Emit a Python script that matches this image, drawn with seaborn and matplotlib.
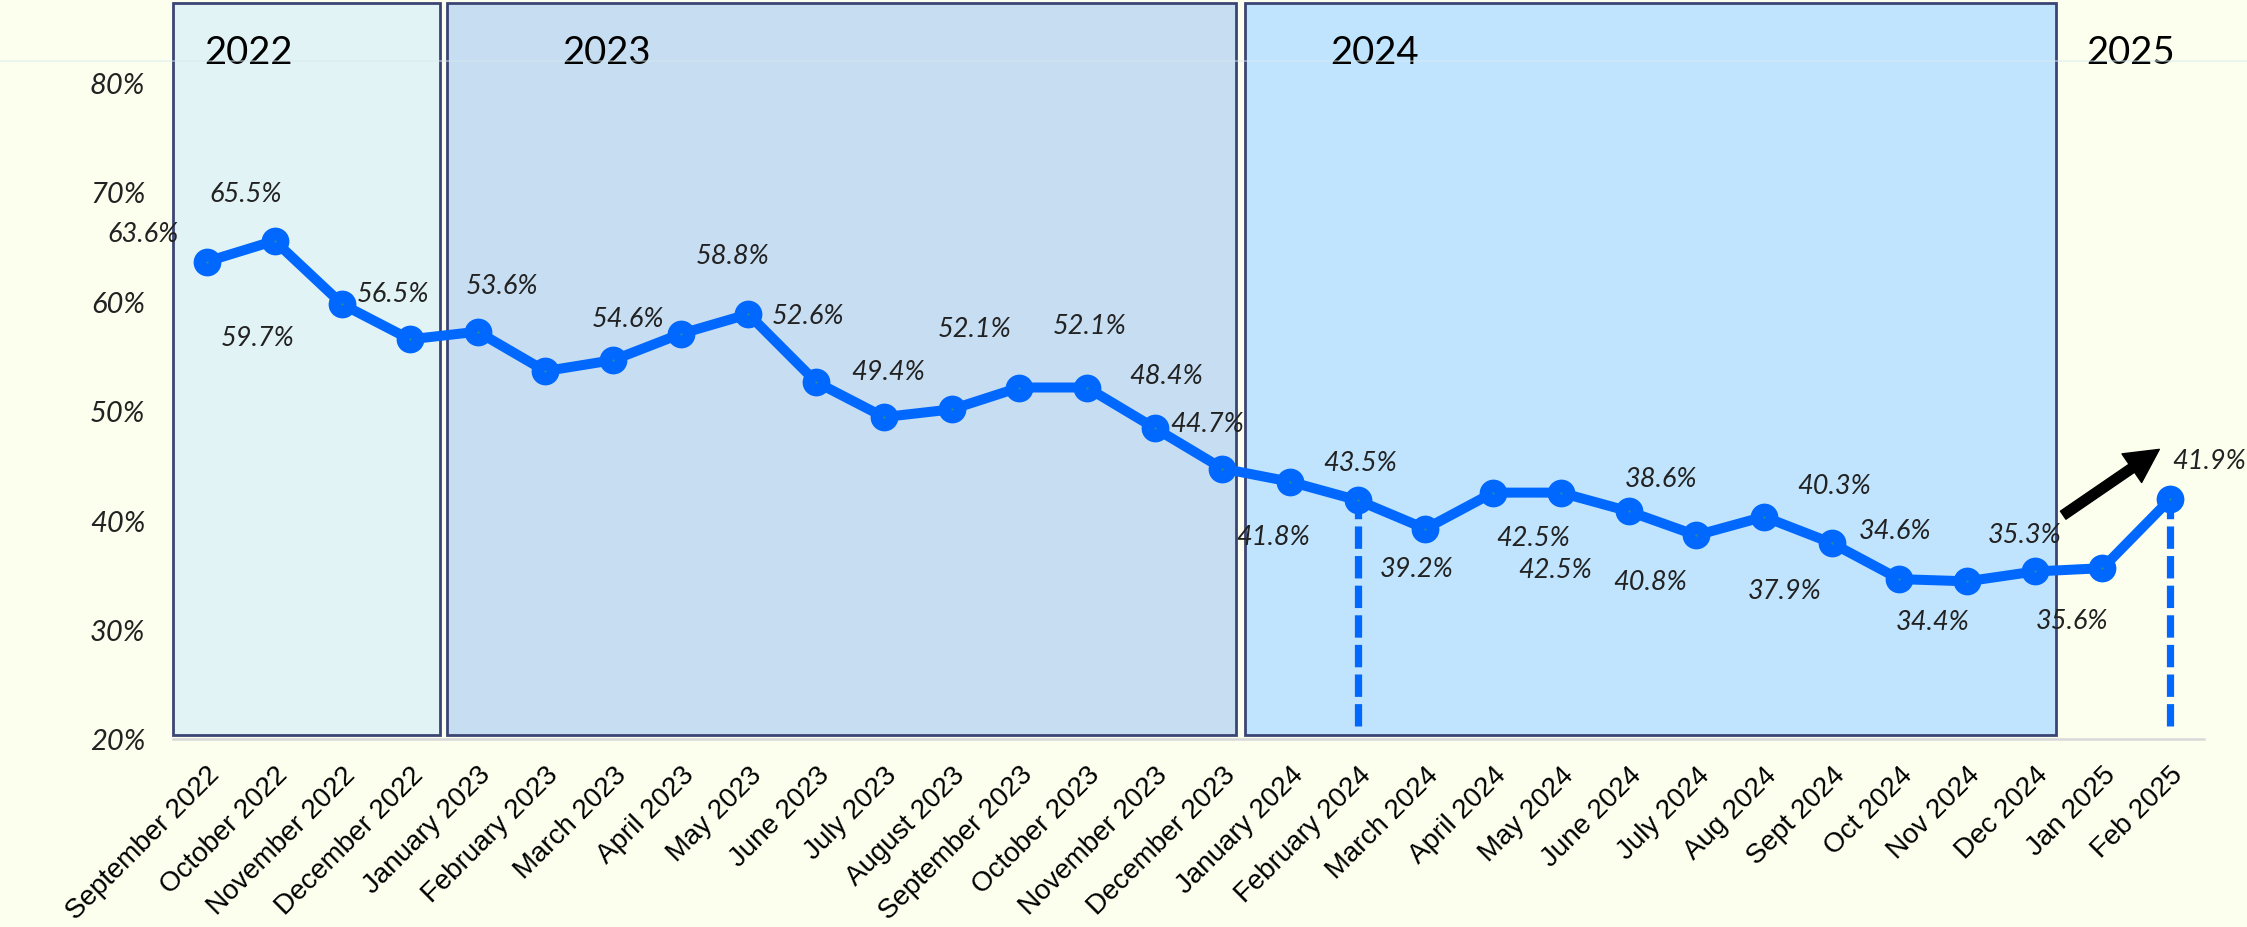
import numpy as np
import pandas as pd
import matplotlib
matplotlib.use("Agg")
import matplotlib.pyplot as plt
from matplotlib.patches import Rectangle
from matplotlib.lines import Line2D
import seaborn as sns

# ---- data -------------------------------------------------------------
months = ["September 2022", "October 2022", "November 2022", "December 2022",
          "January 2023", "February 2023", "March 2023", "April 2023", "May 2023",
          "June 2023", "July 2023", "August 2023", "September 2023", "October 2023",
          "November 2023", "December 2023", "January 2024", "February 2024",
          "March 2024", "April 2024", "May 2024", "June 2024", "July 2024",
          "Aug 2024", "Sept 2024", "Oct 2024", "Nov 2024", "Dec 2024",
          "Jan 2025", "Feb 2025"]
rates = [63.6, 65.5, 59.7, 56.5, 57.2, 53.6, 54.6, 57.0, 58.8, 52.6, 49.4, 50.1,
         52.1, 52.1, 48.4, 44.7, 43.5, 41.8, 39.2, 42.5, 42.5, 40.8, 38.6, 40.3,
         37.9, 34.6, 34.4, 35.3, 35.6, 41.9]
unlabelled_months = ["January 2023", "April 2023", "August 2023"]
highlight_months = ["February 2024", "Feb 2025"]
years = ["2022", "2023", "2024", "2025"]
y_ticks = [20, 30, 40, 50, 60, 70, 80]

# ---- styling ----------------------------------------------------------
BG = "#fdffee"
BLUE = "#0068ff"
NAVY = "#3b4575"
GREY_AXIS = "#d9d9d9"
TEXT = "#222222"
year_fill = ["#e2f3f5", "#c7ddf2", "#c0e4fd"]
# year panels, in category units (start, end)
year_spans = [(-0.5, 3.44), (3.55, 15.20), (15.33, 27.31)]
year_label_x = [-0.04, 5.25, 16.59, 27.76]
# label offsets in pixels (right, up) from each point
label_offsets = [(-64, 28), (-29, 47), (-85, -33), (-17, 46), None, (-43, 86),
                 (15, 42), None, (-16, 59), (-8, 67), (4, 46), None, (-45, 59),
                 (3, 62), (11, 53), (-15, 45), (70, 19), (-85, -36), (-9, -40),
                 (40, -45), (-6, -77), (22, -70), (-35, 57), (70, 31), (-47, -48),
                 (-4, 49), (-34, -40), (-10, 37), (-30, -52), (39, 39)]

sns.set_style("white")
plt.rcParams["font.family"] = ["Lato", "DejaVu Sans"]

df = pd.DataFrame({"month": months, "rate": rates})
df["pos"] = np.arange(len(df))

fig = plt.figure(figsize=(22.47, 9.28), dpi=100, facecolor=BG)
ax = fig.add_axes([173 / 2247, 1 - 740 / 928, (2204 - 173) / 2247, 737 / 928])
ax.set_facecolor(BG)
ax.set_xlim(-0.5, len(months) - 0.5)
y_top = 20 + 737 / 10.95
ax.set_ylim(20, y_top)

# faint rule across the top of the figure
fig.add_artist(Line2D([0, 1], [0.933, 0.933], transform=fig.transFigure,
                      color="#d6eaf0", lw=1.2, alpha=0.55, zorder=10))

# year panels
for (x0, x1), fc in zip(year_spans, year_fill):
    ax.add_patch(Rectangle((x0, 20.35), x1 - x0, y_top - 0.12 - 20.35,
                           facecolor=fc, edgecolor=NAVY, lw=2.0,
                           zorder=1, clip_on=False))
for yr, xl in zip(years, year_label_x):
    ax.text(xl, 82.74, yr, ha="left", va="center", fontsize=27.5,
            color="black", fontweight=400, zorder=6)

# dashed drop lines for highlighted months
for m in highlight_months:
    r = df.loc[df["month"] == m].iloc[0]
    ax.vlines(r["pos"], 21.2, r["rate"], colors=BLUE, lw=5.2,
              linestyles=(0, (3.1, 1.0)), zorder=3)

# main series
sns.lineplot(data=df, x="pos", y="rate", sort=False, color=BLUE, lw=7.2,
             marker="o", markersize=20, markeredgewidth=0, ax=ax, zorder=5)
ax.scatter(df["pos"], df["rate"], s=2.5, color="#2f8f8f", zorder=6, lw=0)

# value labels
for (_, r), off in zip(df.iterrows(), label_offsets):
    if off is None or r["month"] in unlabelled_months:
        continue
    ax.annotate(f"{r['rate']:.1f}%", (r["pos"], r["rate"]), xytext=off,
                textcoords="offset pixels", ha="center", va="center",
                fontsize=19.5, fontstyle="italic", fontweight=400,
                color=TEXT, zorder=7)

# arrow showing the latest rise
ax.annotate("", xy=(28.84, 46.45), xytext=(27.42, 40.44),
            arrowprops=dict(facecolor="black", edgecolor="black", width=7,
                            headwidth=25, headlength=24, shrink=0),
            zorder=8)

# axes
for s in ["left", "top", "right"]:
    ax.spines[s].set_visible(False)
ax.spines["bottom"].set_color(GREY_AXIS)
ax.spines["bottom"].set_linewidth(1.8)
ax.spines["bottom"].set_zorder(0.5)

ax.set_xticks(df["pos"])
ax.set_xticklabels(df["month"], rotation=45, ha="right", va="top",
                   rotation_mode="anchor", fontsize=20,
                   family=["Liberation Sans", "DejaVu Sans"], color="black")
ax.set_xticks(np.arange(-0.5, len(months)), minor=True)
ax.tick_params(axis="x", which="major", length=0, pad=16)
ax.tick_params(axis="x", which="minor", length=6.5, width=1.5, color=GREY_AXIS)

ax.set_yticks(y_ticks)
ax.set_yticklabels([f"{t}%" for t in y_ticks], fontsize=21, fontstyle="italic",
                   fontweight=400, color=TEXT)
ax.tick_params(axis="y", length=0, pad=20)
ax.set_xlabel("")
ax.set_ylabel("")
ax.grid(False)

fig.savefig("out.png", dpi=100, facecolor=BG)
